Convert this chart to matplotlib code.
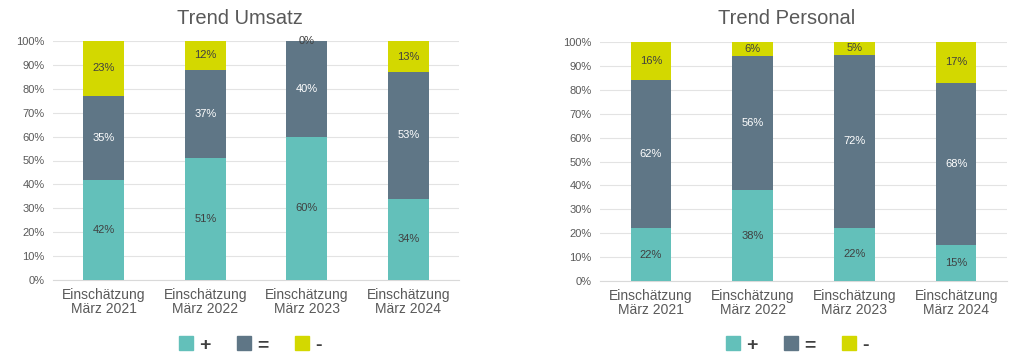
import matplotlib
matplotlib.use("Agg")
import matplotlib.pyplot as plt
from matplotlib.lines import Line2D
import numpy as np

categories = ["Einschätzung\nMärz 2021", "Einschätzung\nMärz 2022", "Einschätzung\nMärz 2023", "Einschätzung\nMärz 2024"]
series_names = ["+", "=", "-"]
umsatz_plus = [42, 51, 60, 34]
umsatz_eq = [35, 37, 40, 53]
umsatz_minus = [23, 12, 0, 13]
personal_plus = [22, 38, 22.3, 15]
personal_eq = [62, 56, 72.4, 68]
personal_minus = [16, 6, 5.3, 17]
titles = ["Trend Umsatz", "Trend Personal"]
yticks = [0, 10, 20, 30, 40, 50, 60, 70, 80, 90, 100]

colors = ["#63C0BA", "#5F7686", "#D3D800"]
label_colors = ["#404040", "#FFFFFF", "#404040"]

plt.rcParams['font.family'] = ['Liberation Sans', 'DejaVu Sans']

fig = plt.figure(figsize=(10.24, 3.62), dpi=100)
fig.patch.set_facecolor("white")

axes_rects = [
    [53/1024, 1-280/362, 406/1024, 239/362],
    [600/1024, 1-281/362, 407/1024, 239/362],
]
title_pos = [(240/1024, 1-19/362), (787/1024, 1-19/362)]
legend_pos = [(250/1024, 1-345/362), (797/1024, 1-345/362)]

datasets = [
    [umsatz_plus, umsatz_eq, umsatz_minus],
    [personal_plus, personal_eq, personal_minus],
]

for k in range(2):
    ax = fig.add_axes(axes_rects[k])
    x = np.arange(len(categories))
    bottom = np.zeros(len(categories))
    for s, vals in enumerate(datasets[k]):
        vals = np.array(vals, dtype=float)
        ax.bar(x, vals, 0.4, bottom=bottom, color=colors[s], zorder=3)
        for i, v in enumerate(vals):
            ax.text(x[i], bottom[i] + v/2, f"{round(v)}%", ha="center", va="center",
                    fontsize=8, color=label_colors[s], zorder=4)
        bottom += vals
    ax.set_xlim(-0.5, 3.5)
    ax.set_ylim(0, 100)
    ax.set_yticks(yticks)
    ax.set_yticklabels([f"{t}%" for t in yticks])
    ax.set_xticks(x)
    ax.set_xticklabels(categories, fontsize=10, color="#595959", linespacing=1.0)
    ax.tick_params(axis="y", length=0, labelsize=8, labelcolor="#595959", pad=6)
    ax.tick_params(axis="x", length=0, pad=6)
    ax.grid(axis="y", color="#E3E3E3", linewidth=0.8, zorder=0)
    for sp in ["top", "right", "left"]:
        ax.spines[sp].set_visible(False)
    ax.spines["bottom"].set_color("#D9D9D9")
    fig.text(title_pos[k][0], title_pos[k][1], titles[k], ha="center", va="center",
             fontsize=14.5, color="#595959")
    handles = [Line2D([0], [0], marker="s", linestyle="none", markersize=10,
                      markerfacecolor=colors[s], markeredgecolor=colors[s]) for s in range(3)]
    fig.legend(handles, series_names, loc="center", bbox_to_anchor=legend_pos[k],
               ncol=3, frameon=False, handlelength=0.8, handletextpad=0.3,
               columnspacing=1.3, labelcolor="#404040",
               prop={"size": 14, "weight": "bold"})

fig.savefig("out.png", dpi=100, facecolor="white")
